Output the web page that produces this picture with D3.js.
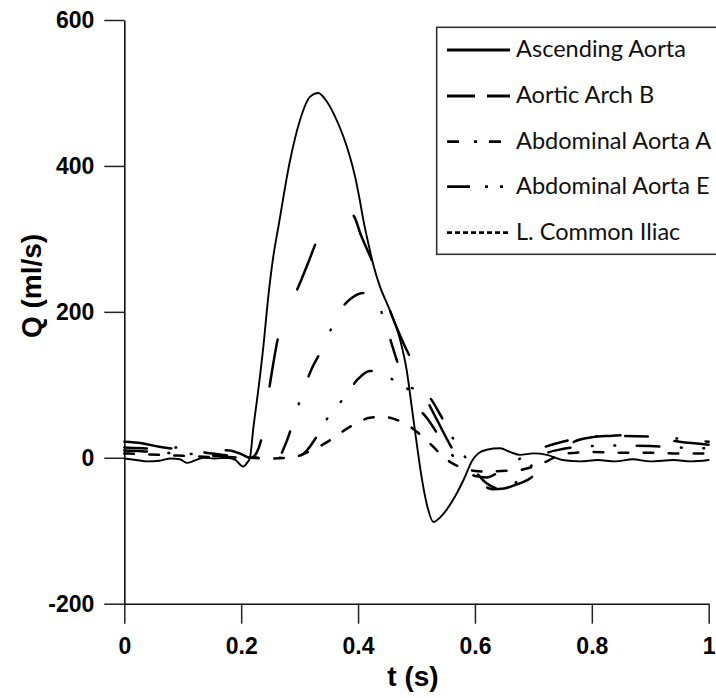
<!DOCTYPE html>
<html>
<head>
<meta charset="utf-8">
<script src="https://cdn.jsdelivr.net/npm/d3@7/dist/d3.min.js"></script>
<style>
  html, body { margin: 0; padding: 0; background: #fff; }
  svg { display: block; }
</style>
</head>
<body>
<svg id="chart" width="716" height="698"></svg>
<script>
// Flow rate Q (ml/s) over one cardiac cycle t (s) at five arterial sites.
const ascendingAorta = [
  [0,-1],[0.02,-3],[0.04,-5],[0.06,-4],[0.08,-1],[0.095,-2],[0.107,-7],[0.12,-4],[0.135,0],
  [0.155,-1],[0.175,0],[0.19,-3],[0.2035,-12],[0.21,-7],[0.215,0],[0.2207,40],[0.2293,93],
  [0.2379,152],[0.2464,221],[0.255,276],[0.264,318],[0.283,405],[0.3007,463],[0.318,495],
  [0.332,500],[0.345,490],[0.358,472],[0.375,440],[0.386,413],[0.395,385],[0.403,353],[0.409,326],
  [0.4175,294],[0.426,265],[0.436,238],[0.4545,202],[0.4722,161],[0.4832,120],[0.4918,70],
  [0.5003,20],[0.509,-28],[0.518,-65],[0.529,-88],[0.54,-82],[0.5517,-71],[0.5688,-49],
  [0.583,-26],[0.5944,-5],[0.6058,6],[0.62,11],[0.643,13],[0.66,8],[0.677,4],[0.70,6],
  [0.723,4],[0.75,-3],[0.78,-5],[0.81,-3],[0.84,-5],[0.87,-2],[0.9,-5],[0.94,-3],[0.97,-5],[1.0,-3]
];
const aorticArchB = [
  [0,22],[0.03,20],[0.06,15],[0.09,12],[0.12,11],[0.15,11],[0.18,10],[0.2,5],[0.215,0],
  [0.222,2],[0.2265,7],[0.235,27],[0.249,100],[0.2635,166],[0.28,205],[0.2977,234],[0.315,268],
  [0.329,296],[0.35,318],[0.365,330],[0.38,336],[0.392,332],[0.405,305],[0.4233,271],[0.44,236],
  [0.4545,202],[0.476,160],[0.4974,123],[0.515,85],[0.537,49],[0.566,6],[0.59,-20],[0.61,-35],
  [0.63,-43],[0.65,-42],[0.67,-37],[0.691,-30],[0.71,-18],[0.729,-7],[0.75,10],[0.77,22],
  [0.8,28],[0.83,30],[0.86,31],[0.9,28],[0.95,22],[1.0,18]
];
const abdominalAortaA = [
  [0,14],[0.03,13],[0.06,12],[0.09,14],[0.12,9],[0.15,6],[0.18,3],[0.21,1],[0.24,0],[0.263,0],
  [0.275,17],[0.289,49],[0.3035,86],[0.3207,122],[0.3405,152],[0.3605,188],[0.375,208],
  [0.389,219],[0.409,226],[0.429,219],[0.45,175],[0.47,125],[0.494,79],[0.52,52],[0.54,28],
  [0.56,5],[0.58,-12],[0.60,-25],[0.62,-27],[0.64,-20],[0.66,-10],[0.69,5],[0.72,15],
  [0.75,22],[0.8,29],[0.85,30],[0.9,29],[0.95,26],[1.0,22]
];
const abdominalAortaE = [
  [0,10],[0.03,9],[0.06,7],[0.09,6],[0.12,5],[0.15,3],[0.18,1],[0.21,0],[0.25,0],[0.29,0],
  [0.31,8],[0.33,30],[0.349,56],[0.378,84],[0.40,108],[0.42,119],[0.437,116],[0.472,102],
  [0.50,93],[0.52,85],[0.54,60],[0.56,30],[0.58,5],[0.60,-18],[0.62,-35],[0.64,-42],[0.66,-40],
  [0.68,-25],[0.70,-8],[0.72,5],[0.75,12],[0.8,16],[0.85,17],[0.9,16],[0.95,14],[1.0,13]
];
const lCommonIliac = [
  [0,6],[0.03,5],[0.06,4],[0.09,3],[0.12,2],[0.15,1],[0.18,0],[0.21,0],[0.25,-1],[0.28,0],
  [0.30,3],[0.32,10],[0.344,20],[0.363,30],[0.383,41],[0.40,48],[0.42,55],[0.443,56],
  [0.466,52],[0.485,45],[0.50,36],[0.52,22],[0.54,6],[0.56,-7],[0.58,-14],[0.60,-18],
  [0.62,-19],[0.645,-18],[0.675,-17],[0.70,-12],[0.72,-6],[0.75,5],[0.8,8],[0.85,7],
  [0.9,7],[0.95,6],[1.0,6]
];

const seriesNames = ["Ascending Aorta", "Aortic Arch B", "Abdominal Aorta A", "Abdominal Aorta E", "L. Common Iliac"];
const seriesData = [ascendingAorta, aorticArchB, abdominalAortaA, abdominalAortaE, lCommonIliac];

const xMajorTicks = [0, 0.2, 0.4, 0.6, 0.8, 1];
const xTickLabels = ["0", "0.2", "0.4", "0.6", "0.8", "1"];
const yMajorTicks = [-200, 0, 200, 400, 600];
const yTickLabels = ["-200", "0", "200", "400", "600"];

// line styles: plot dash patterns (round caps) and legend sample patterns (butt caps)
const plotDash = [null, "47.6,54.4", "22.6,28.6,0.8,28.6", "22.6,21.6,0.8,21.6,0.8,21.6", "9.6,15.4"];
const legendDash = [null, "28,12", "12,15,3,12", "23,15,3,12,3,12", "5,3"];

const svg = d3.select("#chart");
const x = d3.scaleLinear().domain([0, 1]).range([124.3, 708.7]);
const y = d3.scaleLinear().domain([-200, 600]).range([603.7, 20]);

const tickFont = "'Liberation Sans', Arial, sans-serif";

// ---- axes ----
const xMinor = d3.range(0, 1.0001, 0.05).filter(v => !xMajorTicks.some(m => Math.abs(m - v) < 1e-6));
const yMinor = d3.range(-200, 601, 50).filter(v => !yMajorTicks.includes(v));

const gx = svg.append("g").attr("transform", `translate(0,${y(-200)})`);
gx.call(d3.axisBottom(x).tickValues(xMinor).tickSize(10).tickSizeOuter(0).tickFormat(""));
gx.call(d3.axisBottom(x).tickValues(xMajorTicks).tickSize(20).tickSizeOuter(0).tickPadding(13.8)
  .tickFormat((d, i) => xTickLabels[i]));

const gy = svg.append("g").attr("transform", `translate(${x(0)},0)`);
gy.call(d3.axisLeft(y).tickValues(yMinor).tickSize(10).tickSizeOuter(0).tickFormat(""));
gy.call(d3.axisLeft(y).tickValues(yMajorTicks).tickSize(20).tickSizeOuter(0).tickPadding(10)
  .tickFormat((d, i) => yTickLabels[i]));

svg.selectAll(".domain").attr("stroke", "#111").attr("stroke-width", 1.6);
svg.selectAll(".tick line").attr("stroke", "#222").attr("stroke-width", 1.5);
svg.selectAll(".tick text")
  .attr("font-family", tickFont).attr("font-weight", "bold").attr("font-size", 23).attr("fill", "#000");

// axis titles
svg.append("text")
  .attr("x", 413).attr("y", 686)
  .attr("text-anchor", "middle")
  .attr("font-family", tickFont).attr("font-weight", "bold").attr("font-size", 28)
  .text("t (s)");
svg.append("text")
  .attr("transform", "translate(41,286) rotate(-90)")
  .attr("text-anchor", "middle")
  .attr("font-family", tickFont).attr("font-weight", "bold").attr("font-size", 28)
  .text("Q (ml/s)");

// ---- curves ----
const line = d3.line()
  .x(d => x(d[0]))
  .y(d => y(d[1]))
  .curve(d3.curveMonotoneX);

seriesData.forEach((data, i) => {
  svg.append("path")
    .datum(data)
    .attr("d", line)
    .attr("fill", "none")
    .attr("stroke", "#000")
    .attr("stroke-width", i === 0 ? 1.9 : 2.5)
    .attr("stroke-linecap", "round")
    .attr("stroke-linejoin", "round")
    .attr("stroke-dasharray", plotDash[i]);
});

// ---- legend ----
const legend = svg.append("g");
legend.append("rect")
  .attr("x", 436.7).attr("y", 27.3)
  .attr("width", 300).attr("height", 227)
  .attr("fill", "#fff").attr("stroke", "#333").attr("stroke-width", 1.6);

const rowY = [50, 96, 141.7, 186.7, 232.7];
const labelFont = "Lato, 'Open Sans', sans-serif";
seriesNames.forEach((name, i) => {
  legend.append("line")
    .attr("x1", 447).attr("x2", 510)
    .attr("y1", rowY[i]).attr("y2", rowY[i])
    .attr("stroke", "#000").attr("stroke-width", 2.8)
    .attr("stroke-dasharray", legendDash[i]);
  legend.append("text")
    .attr("class", "legend-label")
    .attr("x", 516).attr("y", rowY[i] + 6.8)
    .attr("font-family", labelFont).attr("font-size", 20).attr("fill", "#111")
    .text(name);
});
// size the legend font so the first label spans its measured width
const first = legend.select(".legend-label").node();
const w = first.getComputedTextLength();
const fs = 20 * 170 / w;
legend.selectAll(".legend-label").attr("font-size", fs);
</script>
</body>
</html>
